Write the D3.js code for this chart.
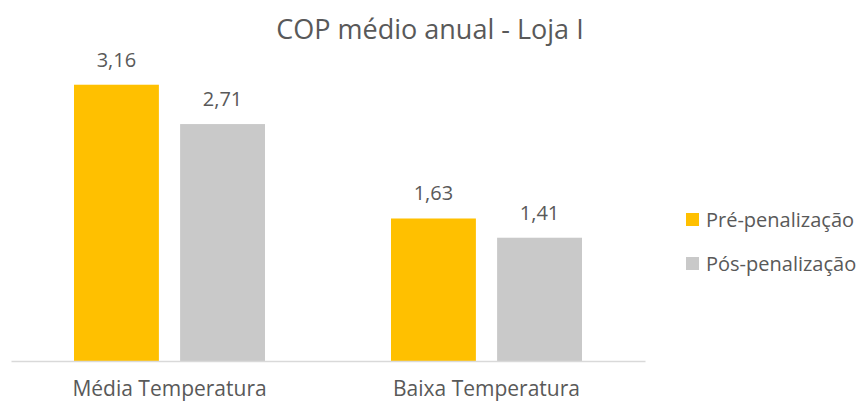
<!DOCTYPE html>
<html>
<head>
<meta charset="utf-8">
<script src="https://cdn.jsdelivr.net/npm/d3@7"></script>
<style>
  body { margin: 0; background: #fff; }
  text { font-family: "Open Sans", sans-serif; fill: #595959; }
</style>
</head>
<body>
<div class="chart"></div>
<script>
var categories = ["Média Temperatura", "Baixa Temperatura"];
var seriesNames = ["Pré-penalização", "Pós-penalização"];
var preValues = [3.16, 1.63];
var posValues = [2.71, 1.41];
var colors = ["#FFC000", "#C9C9C9"];

var W = 864, H = 403;
var margin = { top: 55, left: 11, right: 219, bottom: 42 };
var w = W - margin.left - margin.right,
    h = H - margin.top - margin.bottom;

var svg = d3.select(".chart").append("svg")
    .attr("width", W)
    .attr("height", H);

svg.append("text")
    .attr("x", 430)
    .attr("y", 39)
    .attr("text-anchor", "middle")
    .style("font-size", "27px")
    .text("COP médio anual - Loja I");

var g = svg.append("g")
    .attr("transform", "translate(" + margin.left + "," + margin.top + ")");

var x0 = d3.scaleBand().domain(categories).range([0, w]).paddingInner(0).paddingOuter(0);
var x1 = d3.scaleBand().domain(seriesNames).range([63, x0.bandwidth() - 63]).paddingInner(0.2);
var y = d3.scaleLinear().domain([0, 3.5]).range([h, 0]);

var data = categories.map(function(c, i) {
  return { cat: c, vals: [preValues[i], posValues[i]] };
});

var fmt = function(v) { return d3.format(".2f")(v).replace(".", ","); };

var grp = g.selectAll(".cat").data(data).enter().append("g")
    .attr("class", "cat")
    .attr("transform", function(d) { return "translate(" + x0(d.cat) + ",0)"; });

grp.selectAll("rect").data(function(d) { return d.vals; }).enter().append("rect")
    .attr("x", function(d, i) { return x1(seriesNames[i]); })
    .attr("y", function(d) { return y(d); })
    .attr("width", x1.bandwidth())
    .attr("height", function(d) { return h - y(d); })
    .style("fill", function(d, i) { return colors[i]; });

grp.selectAll(".val").data(function(d) { return d.vals; }).enter().append("text")
    .attr("class", "val")
    .attr("x", function(d, i) { return x1(seriesNames[i]) + x1.bandwidth() / 2; })
    .attr("y", function(d) { return y(d) - 18; })
    .attr("text-anchor", "middle")
    .style("font-size", "20px")
    .text(fmt);

var xAxis = g.append("g")
    .attr("transform", "translate(0," + h + ")")
    .call(d3.axisBottom(x0).tickSize(0));
xAxis.select(".domain").attr("stroke", "#D9D9D9").attr("stroke-width", 1.5);
xAxis.selectAll("text")
    .attr("y", 35)
    .attr("dy", 0)
    .style("font-size", "21px")
    .style("font-family", "'Open Sans', sans-serif")
    .attr("fill", "#595959");

var legend = svg.append("g").attr("transform", "translate(686,213)");
var item = legend.selectAll(".item").data(seriesNames).enter().append("g")
    .attr("class", "item")
    .attr("transform", function(d, i) { return "translate(0," + (i * 44) + ")"; });
item.append("rect")
    .attr("width", 13).attr("height", 13)
    .style("fill", function(d, i) { return colors[i]; });
item.append("text")
    .attr("x", 20)
    .attr("y", 14)
    .style("font-size", "20px")
    .text(function(d) { return d; });
</script>
</body>
</html>
